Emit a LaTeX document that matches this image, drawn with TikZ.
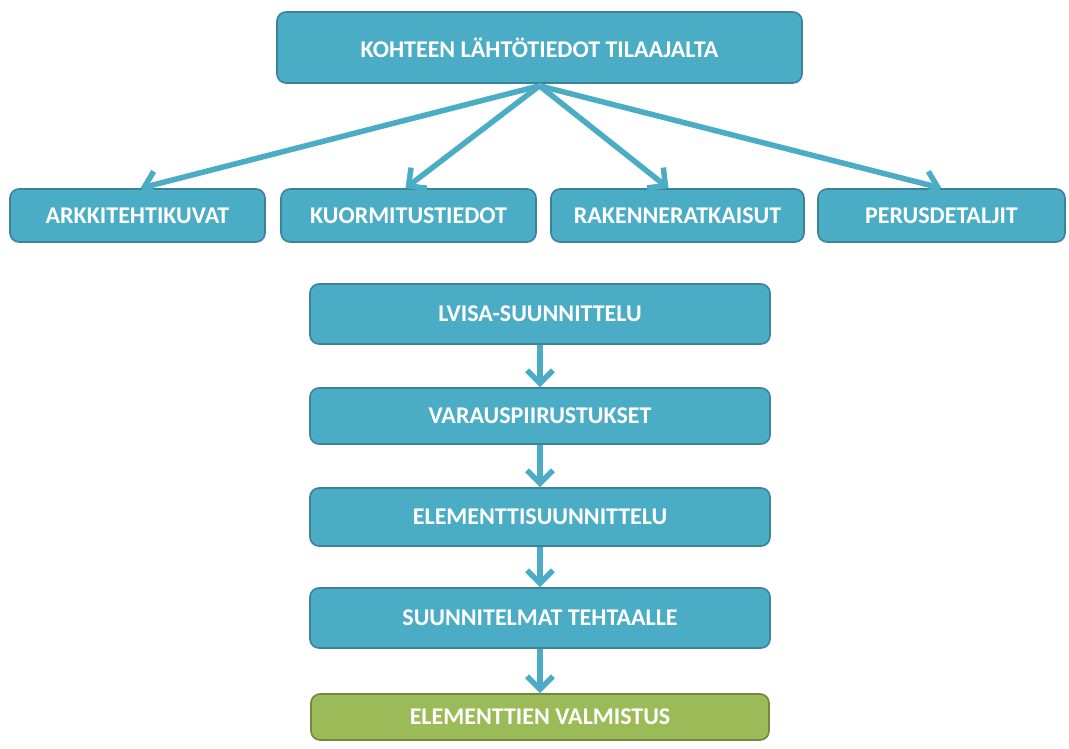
\documentclass[tikz,border=0pt]{standalone}
\usepackage{fontspec}
\setmainfont{Carlito}
\usetikzlibrary{arrows.meta}
\definecolor{accent}{HTML}{4BACC6}
\definecolor{accentdark}{HTML}{3A8399}
\definecolor{grn}{HTML}{9BBB59}
\definecolor{grndark}{HTML}{71893F}
\tikzset{
  box/.style={rounded corners=9pt, fill=accent, draw=accentdark, line width=1.6pt,
    text=white, font=\fontsize{24}{26}\selectfont\bfseries, inner sep=0pt, anchor=center},
  greenbox/.style={box, fill=grn, draw=grndark},
  arr/.style={draw=accent, line width=5.5pt, -{Straight Barb[length=13pt,width=26pt]}}
}
\begin{document}
\begin{tikzpicture}[x=1pt,y=-1pt]
\useasboundingbox[fill=white] (0,0) rectangle (1069,749);
\node[box, minimum width=525pt, minimum height=71pt] (top) at (539.5,47.5) {KOHTEEN LÄHTÖTIEDOT TILAAJALTA};
\node[box, minimum width=255pt, minimum height=53pt] (arkki) at (137.5,215.5) {ARKKITEHTIKUVAT};
\node[box, minimum width=255pt, minimum height=53pt] (kuorm) at (408.5,215.5) {KUORMITUSTIEDOT};
\node[box, minimum width=253pt, minimum height=53pt] (rak) at (677.5,215.5) {RAKENNERATKAISUT};
\node[box, minimum width=247pt, minimum height=53pt] (perus) at (941.5,215.5) {PERUSDETALJIT};
\node[box, minimum width=460pt, minimum height=60pt] (lvisa) at (540,314) {LVISA-SUUNNITTELU};
\node[box, minimum width=460pt, minimum height=56pt] (varaus) at (540,416) {VARAUSPIIRUSTUKSET};
\node[box, minimum width=460pt, minimum height=58pt] (elem) at (540,517) {ELEMENTTISUUNNITTELU};
\node[box, minimum width=460pt, minimum height=60pt] (suun) at (540,618) {SUUNNITELMAT TEHTAALLE};
\node[greenbox, minimum width=458pt, minimum height=46pt] (valm) at (540,717) {ELEMENTTIEN VALMISTUS};
\coordinate (src) at ([yshift=-2pt]top.south);
\draw[arr] (src) -- ([xshift=3pt]arkki.north);
\draw[arr] (src) -- ([xshift=-3pt]kuorm.north);
\draw[arr] (src) -- ([xshift=-9pt]rak.north);
\draw[arr] (src) -- (perus.north);
\draw[arr] (lvisa.south) -- (varaus.north);
\draw[arr] (varaus.south) -- (elem.north);
\draw[arr] (elem.south) -- (suun.north);
\draw[arr] (suun.south) -- (valm.north);
\end{tikzpicture}
\end{document}
